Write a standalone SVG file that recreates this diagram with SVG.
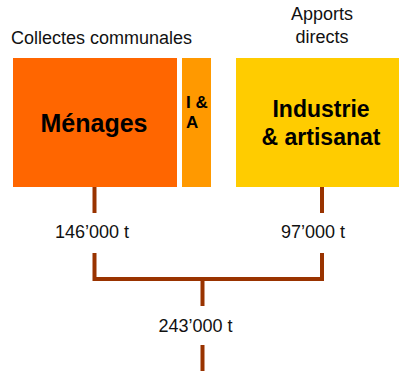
<svg xmlns="http://www.w3.org/2000/svg" width="399" height="371" viewBox="0 0 399 371">
<style>
.lbl{font-family:"Liberation Sans",Arial,sans-serif;font-size:18px;fill:#111;}
.bold{font-family:"Liberation Sans",Arial,sans-serif;font-weight:bold;fill:#000;}
.conn{stroke:#993300;stroke-width:4;fill:none;}
</style>
<rect width="399" height="371" fill="#fff"/>
<text class="lbl" x="11" y="44">Collectes communales</text>
<text class="lbl" x="322" y="20" text-anchor="middle">Apports</text>
<text class="lbl" x="322" y="43" text-anchor="middle">directs</text>
<g id="menages">
<rect x="13" y="58" width="164" height="129" fill="#FF6600"/>
<text class="bold" x="94" y="132" font-size="25" text-anchor="middle">Ménages</text>
</g>
<g id="ia">
<rect x="182" y="58" width="29" height="129" fill="#FF9900"/>
<text class="bold" x="186" y="108" font-size="17">I &amp;</text>
<text class="bold" x="186" y="128" font-size="17">A</text>
</g>
<g id="industrie">
<rect x="236" y="58" width="170" height="129" fill="#FFCC00"/>
<text class="bold" x="321" y="117" font-size="23" text-anchor="middle">Industrie</text>
<text class="bold" x="321" y="145" font-size="23" text-anchor="middle">&amp; artisanat</text>
</g>
<g id="connectors">
<path class="conn" d="M94.5 187V213"/>
<path class="conn" d="M322 187V213"/>
<path class="conn" d="M94.5 253V279H322V253"/>
<path class="conn" d="M202.5 279V306"/>
<path class="conn" d="M202.5 345V371"/>
</g>
<text class="lbl" x="92" y="238" text-anchor="middle">146’000 t</text>
<text class="lbl" x="313" y="238" text-anchor="middle">97’000 t</text>
<text class="lbl" x="195.5" y="332" text-anchor="middle">243’000 t</text>
</svg>
